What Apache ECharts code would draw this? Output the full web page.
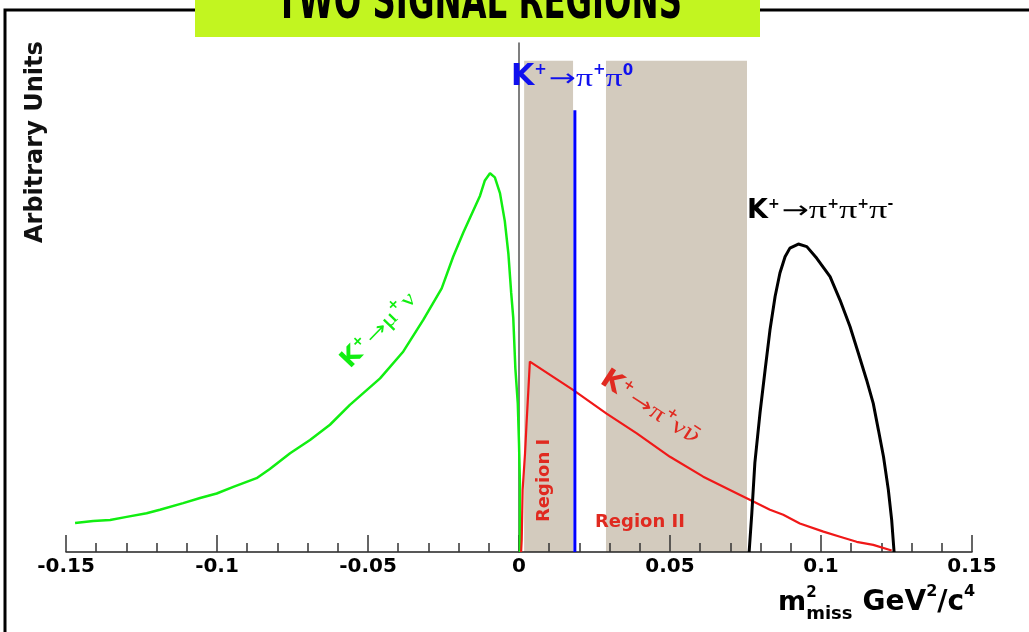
<!DOCTYPE html>
<html><head><meta charset="utf-8">
<script src="https://cdn.jsdelivr.net/npm/echarts@6/dist/echarts.min.js"></script>
<style>html,body{margin:0;padding:0;background:#fff}#c{width:1029px;height:632px}</style>
</head><body><div id="c"></div>
<script>
// ---- data ----
const greenX = [-0.1470,-0.1410,-0.1354,-0.1299,-0.1233,-0.1189,-0.1112,-0.1056,-0.1001,-0.0946,-0.0869,-0.0825,-0.0758,-0.0692,-0.0626,-0.0560,-0.0460,-0.0383,-0.0317,-0.0256,-0.0218,-0.0184,-0.0152,-0.0129,-0.0113,-0.0096,-0.0080,-0.0063,-0.0047,-0.0035,-0.0026,-0.0019,-0.0012,-0.0004,0.0000,0.0003,0.0003];
const greenY = [5.7,6.1,6.3,6.9,7.6,8.3,9.6,10.6,11.5,12.8,14.5,16.3,19.4,22.0,25.0,28.9,34.1,39.4,45.6,51.8,58.0,62.8,67.0,70.0,73.0,74.4,73.6,70.5,65.0,58.5,51.0,46.0,36.0,29.2,21.4,13.5,0];
const redX = [0.0007,0.0009,0.0012,0.0020,0.0025,0.0031,0.0036,0.0180,0.0290,0.0390,0.0500,0.0610,0.0732,0.0776,0.0831,0.0875,0.0930,0.1008,0.1063,0.1118,0.1173,0.1234];
const redY = [0,2.4,12.2,19.4,25.3,31.8,37.4,31.8,27.2,23.3,18.7,14.8,11.2,9.9,8.3,7.3,5.6,4.0,3.0,2.0,1.4,0.3];
const blackX = [0.0762,0.0771,0.0781,0.0798,0.0815,0.0831,0.0848,0.0864,0.0881,0.0897,0.0925,0.0953,0.0986,0.1030,0.1063,0.1096,0.1124,0.1151,0.1173,0.1190,0.1207,0.1223,0.1234,0.1242];
const blackY = [0,7.7,17.5,27.3,35.8,43.6,50.2,54.8,58.0,59.7,60.5,60.0,57.7,54.1,49.5,44.3,39.0,33.8,29.2,24.0,18.7,12.2,6.3,0];
const pi0X = [0.0185,0.0185];
const pi0Y = [0,86.8];
const regionNames = ['Region I','Region II'];
const regionStart = [0.0017,0.0288];
const regionEnd = [0.0179,0.0755];
const regionTop = [96.5,96.5];
const xTicks = [-0.15,-0.1,-0.05,0,0.05,0.1,0.15];
const xTickLabels = ['-0.15','-0.1','-0.05','0','0.05','0.1','0.15'];
const titleText = 'TWO SIGNAL REGIONS';
const yTitle = 'Arbitrary Units';

// ---- helpers ----
const zip = (a,b) => a.map((v,i)=>[v,b[i]]);
const mctx = document.createElement('canvas').getContext('2d');
const SANS = "'DejaVu Sans', sans-serif";
const SERIF = "'Liberation Serif','DejaVu Serif', serif";
function fstr(p){ return (p.italic?'italic ':'')+(p.bold?'bold ':'')+p.size+'px '+(p.family||SANS); }
function tw(t,f){ mctx.font=f; return mctx.measureText(t).width; }
function formula(x,y,rot,pieces,color){
  let cx=0; const children=[];
  pieces.forEach(p=>{
    cx += p.gap||0;
    const sx = p.sx||1;
    children.push({type:'text', x:cx, y:(p.dy||0)-0.32*p.size, scaleX:sx, z:10, silent:true,
      style:{text:p.t, fontSize:p.size, fontWeight:p.bold?'bold':'normal', fontStyle:p.italic?'italic':'normal',
        fontFamily:p.family||SANS, fill:p.color||color, align:'left', verticalAlign:'middle'}});
    if(!p.noAdvance) cx += tw(p.t, fstr(p))*sx;
  });
  return {type:'group', x:x, y:y, rotation:rot, children:children, z:10};
}
const B = true;
const sup = (t,size,dy)=>({t:t, bold:B, size:size, dy:dy});
const arrow = (size)=>({t:'→', size:size, sx:1.35, gap:2});
const greek = (t,size,sx)=>({t:t, family:SERIF, size:size, sx:sx||1.25});

// title font fit
const TFAM = "'Liberation Sans Narrow','DejaVu Sans Condensed','DejaVu Sans',sans-serif";
const tW = tw(titleText, 'bold 40px '+TFAM);
const tSize = 40*406/tW;

const chart = echarts.init(document.getElementById('c'));
const graphics = [
  {type:'polyline', shape:{points:[[5,640],[5,10],[1040,10]]}, style:{stroke:'#000', lineWidth:3, fill:null}, z:1, silent:true},
  {type:'rect', shape:{x:195,y:0,width:565,height:37}, style:{fill:'#c2f520'}, z:2, silent:true},
  {type:'group', x:479, y:21, scaleY:1.45, z:12, silent:true, children:[
    {type:'text', x:0, y:-0.32*tSize, z:12, silent:true, style:{text:titleText, fontSize:tSize, fontWeight:'bold', fontFamily:TFAM, fill:'#000', align:'center', verticalAlign:'middle'}}]},
  formula(43,243,Math.PI/2,[{t:yTitle,bold:B,size:24}],'#111'),
  formula(778,612,0,[{t:'m',bold:B,size:27},{t:'2',bold:B,size:15,dy:-14,noAdvance:true},{t:'miss',bold:B,size:18,dy:8},
    {t:'GeV',bold:B,size:28,gap:10},sup('2',16,-15),{t:'/c',bold:B,size:28},sup('4',16,-15)],'#000'),
  formula(511,87,0,[{t:'K',bold:B,size:30},sup('+',15,-12),arrow(24),greek('π',26,1.3),sup('+',15,-12),greek('π',26,1.3),sup('0',15,-11)],'#1010ee'),
  formula(747,219.5,0,[{t:'K',bold:B,size:27},sup('+',14,-11),arrow(24),greek('π',26,1.4),sup('+',14,-11),greek('π',26,1.4),sup('+',14,-11),greek('π',26,1.4),sup('-',14,-11)],'#000'),
  formula(351,370,46*Math.PI/180,[{t:'K',bold:B,size:25},sup('+',14,-10),arrow(20),greek('μ',22),sup('+',14,-10),{t:'ν',family:SERIF,size:22,sx:1.2,gap:2}],'#11ee11'),
  formula(598,384,-33*Math.PI/180,[{t:'K',bold:B,size:27},sup('+',14,-11),arrow(21),greek('π',23),sup('+',14,-11),greek('ν',23),{t:'ν\u0304',family:"'DejaVu Serif',serif",size:23,sx:1.15}],'#e02a20'),
  formula(550,522,Math.PI/2,[{t:regionNames[0],bold:B,size:18}],'#e02a20'),
  formula(595,528,0,[{t:regionNames[1],bold:B,size:18}],'#e02a20')
];

const option = {
  animation:false,
  backgroundColor:'#fff',
  grid:{left:66,right:57,top:43,bottom:80},
  xAxis:{type:'value', min:-0.15, max:0.15, interval:0.05,
    axisLine:{show:true,onZero:false,lineStyle:{color:'#222',width:1.5}},
    axisTick:{show:true,inside:true,length:17,lineStyle:{color:'#333',width:1.5}},
    minorTick:{show:true,splitNumber:5,length:9,lineStyle:{color:'#333',width:1.5}},
    splitLine:{show:false}, minorSplitLine:{show:false},
    axisLabel:{margin:5,fontFamily:"'DejaVu Sans',sans-serif",fontWeight:'bold',fontSize:20,color:'#000',
      formatter:function(v){ let k=0,b=1e9; xTicks.forEach((t,i)=>{const d=Math.abs(t-v); if(d<b){b=d;k=i;}}); return xTickLabels[k]; }}
  },
  yAxis:{type:'value', min:0, max:100,
    axisLine:{show:true,lineStyle:{color:'#555',width:1.5}},
    axisTick:{show:false}, axisLabel:{show:false}, splitLine:{show:false}},
  series:[
    {type:'custom', z:-1, silent:true, data: regionStart.map((s,i)=>[s,regionEnd[i],regionTop[i]]),
      renderItem:function(params,api){
        const p0 = api.coord([api.value(0),0]);
        const p1 = api.coord([api.value(1),api.value(2)]);
        return {type:'rect', shape:{x:p0[0],y:p1[1],width:p1[0]-p0[0],height:p0[1]-p1[1]}, style:{fill:'#d3cbbe'}};
      }},
    {type:'line', data:zip(greenX,greenY), showSymbol:false, lineStyle:{color:'#11ee11',width:2.5}, z:3, silent:true},
    {type:'line', data:zip(redX,redY), showSymbol:false, lineStyle:{color:'#f01818',width:2.2}, z:3, silent:true},
    {type:'line', data:zip(blackX,blackY), showSymbol:false, lineStyle:{color:'#000',width:3}, z:3, silent:true},
    {type:'line', data:zip(pi0X,pi0Y), showSymbol:false, lineStyle:{color:'#0000ff',width:3}, z:3, silent:true}
  ],
  graphic: graphics
};
chart.setOption(option);
</script></body></html>
